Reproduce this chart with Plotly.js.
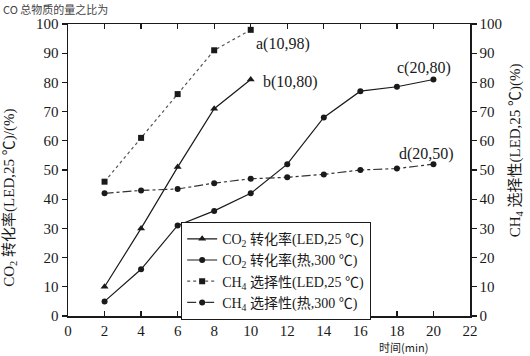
<!DOCTYPE html>
<html>
<head>
<meta charset="utf-8">
<script src="https://cdn.plot.ly/plotly-3.0.1.min.js"></script>
<style>html,body{margin:0;padding:0;background:#fff;}#chart{width:530px;height:356px;}</style>
</head>
<body>
<div id="chart"></div>
<script>
// Data
const timeLED = [2, 4, 6, 8, 10];
const co2LED = [10, 30, 51, 71, 81];
const chLED = [46, 61, 76, 91, 98];
const timeHeat = [2, 4, 6, 8, 10, 12, 14, 16, 18, 20];
const co2Heat = [5, 16, 31, 36, 42, 52, 68, 77, 78.5, 81];
const chHeat = [42, 43, 43.5, 45.5, 47, 47.5, 48.5, 50, 50.5, 52];
const xTicks = [0, 2, 4, 6, 8, 10, 12, 14, 16, 18, 20, 22];
const yTicks = [0, 10, 20, 30, 40, 50, 60, 70, 80, 90, 100];
const seriesNames = [
  'CO<sub>2</sub> 转化率(LED,25 ℃)',
  'CO<sub>2</sub> 转化率(热,300 ℃)',
  'CH<sub>4</sub> 选择性(LED,25 ℃)',
  'CH<sub>4</sub> 选择性(热,300 ℃)'
];
const pointLabels = [
  {x: 10.2, y: 93, text: 'a(10,98)', anchor: 'left'},
  {x: 10.55, y: 80, text: 'b(10,80)', anchor: 'left'},
  {x: 19.5, y: 85, text: 'c(20,80)', anchor: 'center'},
  {x: 19.6, y: 55.5, text: 'd(20,50)', anchor: 'center'}
];

const serif = '"Liberation Serif", "Noto Sans CJK SC", serif';
const ink = '#1a1a1a';

const traces = [
  {x: timeLED, y: co2LED, name: seriesNames[0], mode: 'lines+markers', yaxis: 'y',
   line: {color: ink, width: 1.2, dash: 'solid'}, marker: {symbol: 'triangle-up', size: 7, color: ink}},
  {x: timeHeat, y: co2Heat, name: seriesNames[1], mode: 'lines+markers', yaxis: 'y',
   line: {color: ink, width: 1.2, dash: 'solid'}, marker: {symbol: 'circle', size: 6, color: ink}},
  {x: timeLED, y: chLED, name: seriesNames[2], mode: 'lines+markers', yaxis: 'y2',
   line: {color: '#555', width: 1.2, dash: 'dot'}, marker: {symbol: 'square', size: 6, color: ink}},
  {x: timeHeat, y: chHeat, name: seriesNames[3], mode: 'lines+markers', yaxis: 'y2',
   line: {color: '#333', width: 1.2, dash: 'dashdot'}, marker: {symbol: 'circle', size: 6, color: ink}}
];

const annotations = pointLabels.map(p => ({
  x: p.x, y: p.y, xref: 'x', yref: 'y', text: p.text, showarrow: false,
  xanchor: p.anchor, yanchor: 'middle', font: {family: serif, size: 16, color: ink}
}));
// x-axis title
annotations.push({
  x: 0.835, y: -0.137, xref: 'paper', yref: 'paper', text: '时间(min)', showarrow: false,
  xanchor: 'center', yanchor: 'bottom', borderpad: 0,
  font: {family: '"Noto Sans CJK SC", "Liberation Serif", serif', size: 11, color: ink}
});
// left y-axis title
annotations.push({
  x: -0.145, y: 0.404, xref: 'paper', yref: 'paper', text: 'CO<sub>2</sub> 转化率(LED,25 ℃)/(%)', showarrow: false,
  textangle: -90, xanchor: 'center', yanchor: 'middle', font: {family: serif, size: 15, color: ink}
});
// right y-axis title
annotations.push({
  x: 1.115, y: 0.568, xref: 'paper', yref: 'paper', text: 'CH<sub>4</sub> 选择性(LED,25 ℃)(%)', showarrow: false,
  textangle: -90, xanchor: 'center', yanchor: 'middle', font: {family: serif, size: 15, color: ink}
});
// cut-off line of text above the chart
annotations.push({
  x: -0.165, y: 1.082, xref: 'paper', yref: 'paper', text: 'CO 总物质的量之比为', showarrow: false,
  xanchor: 'left', yanchor: 'top', borderpad: 0,
  font: {family: '"Noto Sans CJK SC", serif', size: 11, color: '#444'}
});

const axisCommon = {
  showgrid: false, zeroline: false, showline: true, linecolor: ink, linewidth: 1.5,
  tickcolor: ink, ticklen: 5, tickwidth: 1.2,
  tickfont: {family: serif, size: 15, color: ink}
};

const layout = {
  width: 530, height: 356,
  margin: {l: 68, r: 60, t: 24, b: 40},
  paper_bgcolor: '#fff', plot_bgcolor: '#fff',
  showlegend: true,
  legend: {
    x: 0.281, y: 0.322, xanchor: 'left', yanchor: 'top',
    bgcolor: '#fff', bordercolor: ink, borderwidth: 1.2,
    font: {family: serif, size: 14, color: ink},
    tracegroupgap: 0, itemwidth: 30
  },
  xaxis: Object.assign({}, axisCommon, {
    range: [0, 22], tickvals: xTicks, ticktext: xTicks.map(String),
    ticks: 'inside', mirror: 'ticks'
  }),
  yaxis: Object.assign({}, axisCommon, {
    range: [0, 100], tickvals: yTicks, ticktext: yTicks.map(String),
    ticks: 'outside'
  }),
  yaxis2: Object.assign({}, axisCommon, {
    range: [0, 100], tickvals: yTicks, ticktext: yTicks.map(String),
    overlaying: 'y', side: 'right', ticks: 'outside'
  }),
  annotations: annotations
};

Plotly.newPlot('chart', traces, layout, {displayModeBar: false, staticPlot: true});
</script>
</body>
</html>
